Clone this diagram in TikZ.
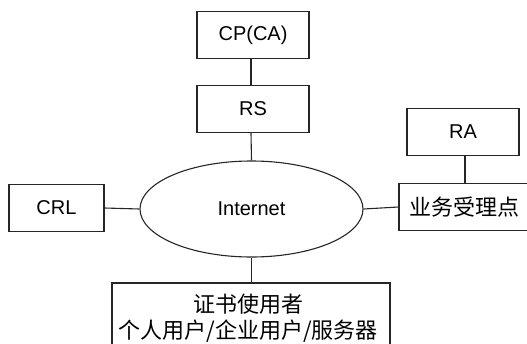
\documentclass[tikz,border=0pt]{standalone}
\usepackage{fontspec}
\setmainfont{Liberation Sans}
\newfontfamily\cjk{Noto Sans CJK SC}
\usetikzlibrary{shapes.geometric}
\begin{document}
\begin{tikzpicture}[x=1pt,y=-1pt,
  box/.style={draw=black!85,line width=1.1pt,rectangle,inner sep=0pt,minimum height=47pt},
  conn/.style={draw=black!85,line width=1.1pt},
  lab/.style={font=\fontsize{20}{22}\selectfont},
  zh/.style={font=\cjk\fontsize{22}{27}\selectfont}]
\useasboundingbox (0,0) rectangle (527,343);
\clip (0,0) rectangle (527,343);
\node[box,lab,minimum width=112pt] (cp) at (253,35) {CP(CA)};
\node[box,lab,minimum width=112pt] (rs) at (253,109) {RS};
\node[box,lab,minimum width=112pt] (ra) at (463,132) {RA};
\node[box,zh,minimum width=130pt] (yw) at (464,207) {业务受理点};
\node[box,lab,minimum width=95pt] (crl) at (56.5,208) {CRL};
\node[draw=black!85,line width=1.1pt,ellipse,inner sep=0pt,minimum width=223pt,minimum height=96pt,lab] (inet) at (251.5,209) {Internet};
\node[box,minimum width=278pt,minimum height=62pt] (user) at (251,314) {};
\node[zh,inner sep=0pt] (u1) at (248,304) {证书使用者};
\node[zh,inner sep=0pt] (u2) at (248,331) {个人用户/企业用户/服务器};
\draw[conn] (cp.south -| 251,0) -- (rs.north -| 251,0);
\draw[conn] (rs.south -| 251,0) -- (inet.north);
\draw[conn] (crl.east) -- (inet.west);
\draw[conn] (inet.east) -- (yw.west);
\draw[conn] (ra.south -| 465,0) -- (yw.north -| 465,0);
\draw[conn] (inet.south) -- (user.north -| inet.south);
\end{tikzpicture}
\end{document}
